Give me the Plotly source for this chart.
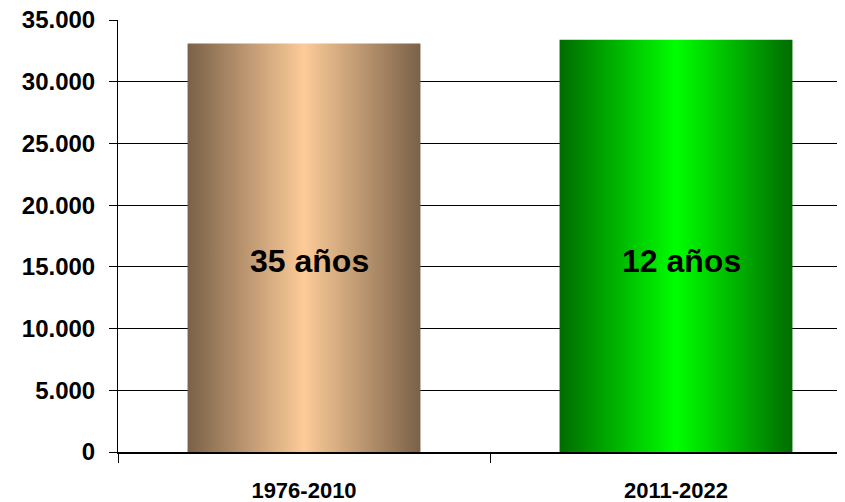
import plotly.graph_objects as go

categories = ["1976-2010", "2011-2022"]
values = [33100, 33400]
bar_labels = ["35 años", "12 años"]
y_ticks = [0, 5000, 10000, 15000, 20000, 25000, 30000, 35000]
y_ticktext = ["0", "5.000", "10.000", "15.000", "20.000", "25.000", "30.000", "35.000"]

edge_colors = ["rgb(122,97,72)", "rgb(0,108,0)"]
center_colors = ["rgb(252,203,152)", "rgb(0,255,0)"]

BAR_W = 0.626
FONT = "Liberation Sans, Arial, sans-serif"

fig = go.Figure()
for i, v in enumerate(values):
    x0, x1 = i - BAR_W / 2, i + BAR_W / 2
    fig.add_trace(go.Scatter(
        x=[x0, x1, x1, x0, x0], y=[0, 0, v, v, 0],
        mode="lines", line=dict(width=0), fill="toself",
        fillgradient=dict(type="horizontal",
                          colorscale=[[0, edge_colors[i]], [0.5, center_colors[i]], [1, edge_colors[i]]]),
        hoverinfo="skip", showlegend=False,
    ))
    fig.add_annotation(x=i, y=15500, text="<b>%s</b>" % bar_labels[i], showarrow=False,
                       xshift=5, font=dict(family=FONT, size=32, color="black"))

# invisible trace to attach the category axis
fig.add_trace(go.Scatter(x=[0, 1], y=values, xaxis="x2", mode="markers",
                         marker=dict(opacity=0), hoverinfo="skip", showlegend=False))

W, H = 837, 494
L, T, B = 110, 12, 50
xr = [-0.5, -0.5 + (W - L) / 372]
fig.update_layout(
    width=W, height=H,
    margin=dict(l=L, r=0, t=T, b=B, autoexpand=False),
    plot_bgcolor="white", paper_bgcolor="white",
    font=dict(family=FONT, size=22, color="black"),
    xaxis=dict(range=xr, tickvals=[-0.5, 0.5, 1.5], ticktext=["", "", ""],
               ticks="outside", ticklen=9, tickcolor="black", tickwidth=1,
               showline=True, linecolor="black", linewidth=2, showgrid=False, zeroline=False,
               automargin=False, fixedrange=True),
    xaxis2=dict(range=xr, overlaying="x", side="bottom", tickvals=[0, 1],
                ticktext=["<b>%s</b>" % c for c in categories], ticks="",
                showline=False, showgrid=False, zeroline=False, ticklabelstandoff=23,
                automargin=False, ticklabeloverflow="allow",
                tickfont=dict(family=FONT, size=22, color="black")),
    yaxis=dict(range=[0, 35000], tickvals=y_ticks, ticktext=["<b>%s</b>" % t for t in y_ticktext],
               ticks="outside", ticklen=8, tickcolor="black", tickwidth=1,
               showline=True, linecolor="black", linewidth=1,
               showgrid=True, gridcolor="black", gridwidth=1, zeroline=False,
               ticklabelstandoff=9, automargin=False, ticklabeloverflow="allow",
               tickfont=dict(family=FONT, size=24, color="black")),
)

fig.write_html("out.html")
